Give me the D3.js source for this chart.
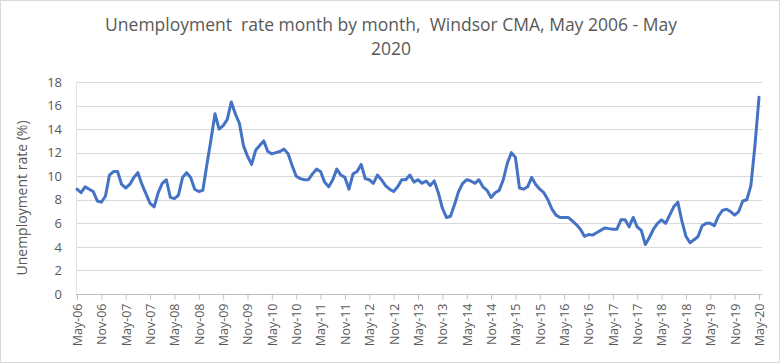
<!DOCTYPE html>
<html>
<head>
<meta charset="utf-8">
<script src="https://cdn.jsdelivr.net/npm/d3@7"></script>
<style>
  body { margin: 0; background: #fff; }
  svg { display: block; font-family: "Open Sans", sans-serif; }
</style>
</head>
<body>
<svg width="780" height="363"></svg>
<script>
// Windsor CMA unemployment rate (%), monthly from May 2006 to May 2020
const rate = [
  8.9, 8.6, 9.1, 8.9, 8.7, 7.9, 7.8, 8.3, 10.1, 10.4, 10.4, 9.3,       // May-06 .. Apr-07
  9.0, 9.3, 9.9, 10.3, 9.3, 8.5, 7.7, 7.4, 8.6, 9.4, 9.7, 8.2,         // May-07 .. Apr-08
  8.1, 8.4, 9.9, 10.3, 9.9, 8.9, 8.7, 8.8, 11.0, 13.1, 15.3, 14.0,     // May-08 .. Apr-09
  14.3, 14.8, 16.3, 15.3, 14.5, 12.6, 11.7, 11.0, 12.2, 12.6, 13.0, 12.1, // May-09 .. Apr-10
  11.9, 12.0, 12.1, 12.3, 11.9, 10.9, 10.0, 9.8, 9.7, 9.7, 10.2, 10.6, // May-10 .. Apr-11
  10.4, 9.5, 9.1, 9.7, 10.6, 10.1, 9.9, 8.9, 10.2, 10.4, 11.0, 9.8,    // May-11 .. Apr-12
  9.7, 9.4, 10.1, 9.7, 9.2, 8.9, 8.7, 9.1, 9.7, 9.7, 10.1, 9.5,        // May-12 .. Apr-13
  9.7, 9.4, 9.6, 9.2, 9.6, 8.6, 7.3, 6.5, 6.6, 7.6, 8.7, 9.4,          // May-13 .. Apr-14
  9.7, 9.6, 9.4, 9.7, 9.1, 8.8, 8.2, 8.6, 8.8, 9.7, 11.1, 12.0,        // May-14 .. Apr-15
  11.6, 9.0, 8.9, 9.1, 9.9, 9.3, 8.9, 8.6, 8.0, 7.2, 6.7, 6.5,         // May-15 .. Apr-16
  6.5, 6.5, 6.2, 5.9, 5.5, 4.9, 5.05, 5.0, 5.2, 5.4, 5.6, 5.55,        // May-16 .. Apr-17
  5.5, 5.5, 6.3, 6.3, 5.7, 6.5, 5.7, 5.4, 4.2, 4.8, 5.5, 6.0,          // May-17 .. Apr-18
  6.3, 6.0, 6.7, 7.4, 7.8, 6.2, 4.9, 4.35, 4.6, 4.9, 5.8, 6.0,         // May-18 .. Apr-19
  6.0, 5.8, 6.6, 7.1, 7.2, 7.0, 6.7, 7.0, 7.9, 8.0, 9.2, 12.6,         // May-19 .. Apr-20
  16.7                                                                 // May-20
];

const tickLabels = [
  "May-06", "Nov-06", "May-07", "Nov-07", "May-08", "Nov-08", "May-09", "Nov-09",
  "May-10", "Nov-10", "May-11", "Nov-11", "May-12", "Nov-12", "May-13", "Nov-13",
  "May-14", "Nov-14", "May-15", "Nov-15", "May-16", "Nov-16", "May-17", "Nov-17",
  "May-18", "Nov-18", "May-19", "Nov-19", "May-20"
];
const yTicks = [0, 2, 4, 6, 8, 10, 12, 14, 16, 18];

const titleLines = ["Unemployment  rate month by month,  Windsor CMA, May 2006 - May", "2020"];
const yTitle = "Unemployment rate (%)";

const svg = d3.select("svg");
const textColor = "#595959";

// chart border
svg.append("rect")
  .attr("x", 0.5).attr("y", 0.5)
  .attr("width", 779).attr("height", 362)
  .attr("fill", "#fff")
  .attr("stroke", "#d9d9d9");

const x = d3.scaleLinear().domain([0, rate.length - 1]).range([77, 759]);
const y = d3.scaleLinear().domain([0, 18]).range([294, 82]);

// horizontal grid
svg.append("g")
  .selectAll("line")
  .data(yTicks.filter(d => d > 0))
  .join("line")
  .attr("x1", 76).attr("x2", 762)
  .attr("y1", d => Math.round(y(d)) + 0.5)
  .attr("y2", d => Math.round(y(d)) + 0.5)
  .attr("stroke", "#d9d9d9");

// y axis labels
const yAxis = d3.axisLeft(y).tickValues(yTicks).tickSize(0).tickPadding(0);
svg.append("g")
  .attr("transform", "translate(62,0)")
  .call(yAxis)
  .call(g => g.select(".domain").remove())
  .call(g => g.selectAll("text")
    .attr("fill", textColor)
    .style("font-size", "13px")
    .style("font-family", "Open Sans"));

// faint left edge
svg.append("line")
  .attr("x1", 76.5).attr("x2", 76.5)
  .attr("y1", 82).attr("y2", 294)
  .attr("stroke", "#e3e3e3");

// x axis
const xAxis = d3.axisBottom(x)
  .tickValues(tickLabels.map((d, i) => i * 6))
  .tickFormat((d, i) => tickLabels[i])
  .tickSize(5)
  .tickSizeOuter(0);

svg.append("g")
  .attr("transform", "translate(0," + (Math.round(y(0)) + 0.5) + ")")
  .call(xAxis)
  .call(g => g.select(".domain")
    .attr("d", "M76,0H762")
    .attr("stroke", "#bfbfbf"))
  .call(g => g.selectAll(".tick line").attr("stroke", "#bfbfbf"))
  .call(g => g.selectAll(".tick text")
    .attr("fill", textColor)
    .style("font-size", "12.5px")
    .style("font-family", "Open Sans")
    .attr("transform", "rotate(-90)")
    .attr("text-anchor", "end")
    .attr("x", -9)
    .attr("y", 0)
    .attr("dy", "0.35em"));

// the line
const line = d3.line()
  .x((d, i) => x(i))
  .y(d => y(d));

svg.append("path")
  .datum(rate)
  .attr("d", line)
  .attr("fill", "none")
  .attr("stroke", "#4472c4")
  .attr("stroke-width", 3)
  .attr("stroke-linejoin", "round")
  .attr("stroke-linecap", "round");

// title
svg.append("g")
  .selectAll("text")
  .data(titleLines)
  .join("text")
  .attr("x", 391)
  .attr("y", (d, i) => 31 + i * 24)
  .attr("text-anchor", "middle")
  .attr("fill", textColor)
  .style("font-size", "17.5px")
  .style("white-space", "pre")
  .text(d => d);

// y axis title
svg.append("text")
  .attr("transform", "translate(27,198) rotate(-90)")
  .attr("text-anchor", "middle")
  .attr("fill", textColor)
  .style("font-size", "14px")
  .text(yTitle);
</script>
</body>
</html>
